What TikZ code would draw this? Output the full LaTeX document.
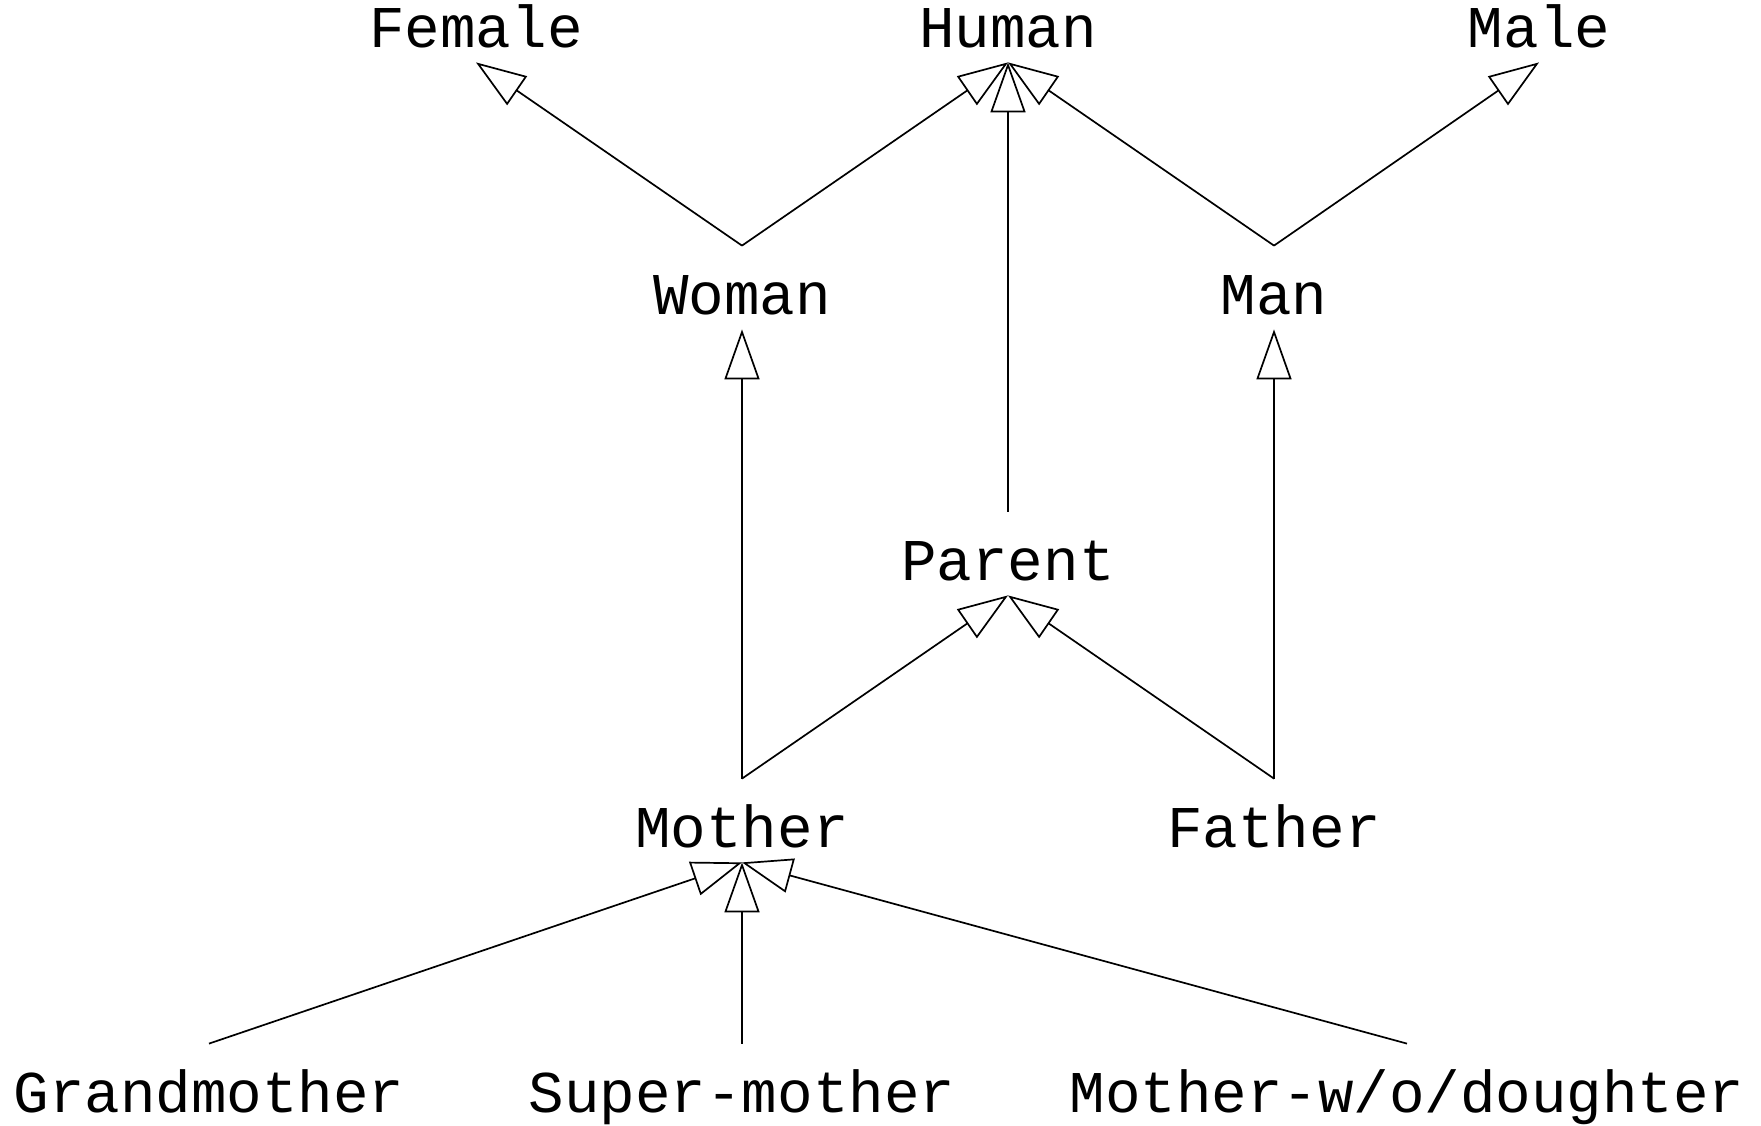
\documentclass[tikz,border=0pt]{standalone}
\usepackage{fontspec}
\setmainfont{Liberation Mono}
\usetikzlibrary{arrows.meta}
\begin{document}
\begin{tikzpicture}[x=0.5pt,y=-0.5pt,
  concept/.style={anchor=base, inner sep=0pt, text height=34pt, text depth=7.5pt,
    font=\fontsize{29.6pt}{34pt}\selectfont},
  isa/.style={line width=0.85pt, -{Triangle[open, length=25pt, width=17.5pt, line width=0.85pt]}}]
\useasboundingbox (0,0) rectangle (1761,1125);

% top level
\node[concept] (female) at (476,47) {Female};
\node[concept] (human)  at (1008,47) {Human};
\node[concept] (male)   at (1539,47) {Male};

% second level
\node[concept] (woman) at (742,314) {Woman};
\node[concept] (man)   at (1274,314) {Man};

% third level
\node[concept] (parent) at (1008,580) {Parent};

% fourth level
\node[concept] (mother) at (742,847) {Mother};
\node[concept] (father) at (1274,847) {Father};

% leaves
\node[concept] (grand) at (209,1112) {Grandmother};
\node[concept] (super) at (742,1112) {Super-mother};
\node[concept] (nodau) at (1407,1112) {Mother-w/o/doughter};

% is-a links
\draw[isa] (woman.north) -- (female.south);
\draw[isa] (woman.north) -- (human.south);
\draw[isa] (parent.north) -- (human.south);
\draw[isa] (man.north) -- (human.south);
\draw[isa] (man.north) -- (male.south);

\draw[isa] (mother.north) -- (woman.south);
\draw[isa] (mother.north) -- (parent.south);
\draw[isa] (father.north) -- (parent.south);
\draw[isa] (father.north) -- (man.south);

\draw[isa] (grand.north) -- (mother.south);
\draw[isa] (super.north) -- (mother.south);
\draw[isa] (nodau.north) -- (mother.south);
\end{tikzpicture}
\end{document}
